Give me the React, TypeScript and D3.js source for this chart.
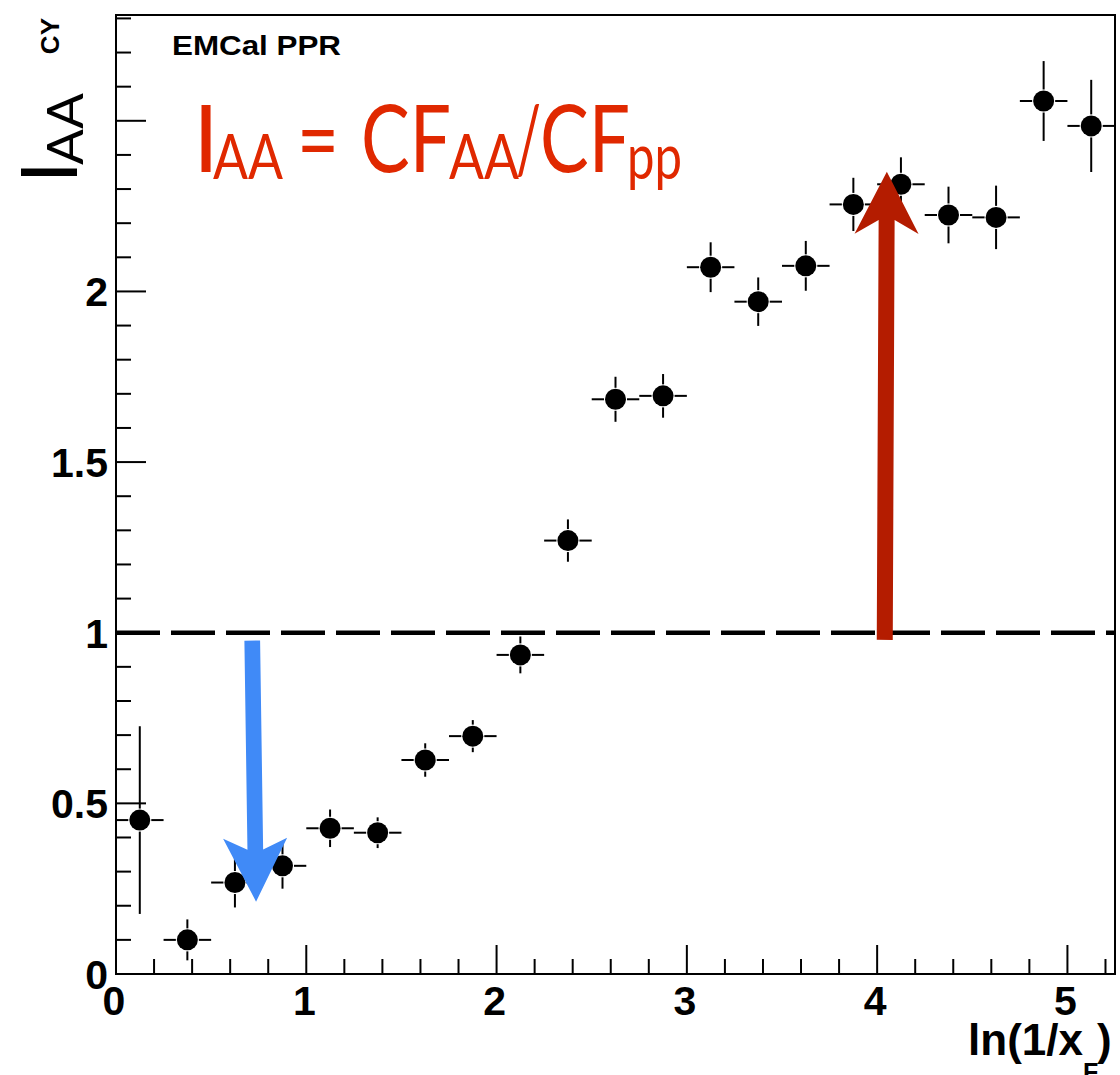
import React from "react";
import * as d3 from "d3";

// ---- data ----
const binCenters = [0.125, 0.375, 0.625, 0.875, 1.125, 1.375, 1.625, 1.875, 2.125, 2.375, 2.625,
  2.875, 3.125, 3.375, 3.625, 3.875, 4.125, 4.375, 4.625, 4.875, 5.125];
const iaaValues = [0.451, 0.100, 0.268, 0.317, 0.427, 0.414, 0.627, 0.697, 0.935, 1.270, 1.684,
  1.694, 2.071, 1.970, 2.075, 2.255, 2.314, 2.224, 2.217, 2.558, 2.485];
const iaaErrors = [0.275, 0.060, 0.073, 0.067, 0.055, 0.045, 0.049, 0.047, 0.054, 0.062, 0.066,
  0.064, 0.073, 0.071, 0.073, 0.078, 0.079, 0.083, 0.093, 0.117, 0.135];
const binHalfWidth = 0.125;

const xMajorTicks = [0, 1, 2, 3, 4, 5];
const xTickLabels = ["0", "1", "2", "3", "4", "5"];
const yMajorTicks = [0, 0.5, 1, 1.5, 2, 2.5];
const yTickLabels = ["0", "0.5", "1", "1.5", "2", ""];
const referenceLevel = 1;

// annotation arrows in data coordinates [x0, y0] -> [x1, y1]
const blueArrow = { from: [0.716, 0.977], to: [0.736, 0.212] };
const redArrow = { from: [4.040, 0.979], to: [4.051, 2.351] };

const W = 1120, H = 1075;
const plot = { left: 116, right: 1115, top: 15, bottom: 974 };

const x = d3.scaleLinear().domain([0, 5.25]).range([plot.left, plot.right]);
const y = d3.scaleLinear().domain([0, 2.81]).range([plot.bottom, plot.top]);

function arrowPath(from: number[], to: number[], shaftW: number, headLen: number, notch: number, halfW: number) {
  const sx = x(from[0]), sy = y(from[1]);
  const tx = x(to[0]), ty = y(to[1]);
  const len = Math.hypot(tx - sx, ty - sy);
  const ux = (tx - sx) / len, uy = (ty - sy) / len;
  const nx = -uy, ny = ux;
  const jx = tx - ux * notch, jy = ty - uy * notch;
  const wx = tx - ux * headLen, wy = ty - uy * headLen;
  const pts: [number, number][] = [
    [sx + nx * shaftW / 2, sy + ny * shaftW / 2],
    [jx + nx * shaftW / 2, jy + ny * shaftW / 2],
    [wx + nx * halfW, wy + ny * halfW],
    [tx, ty],
    [wx - nx * halfW, wy - ny * halfW],
    [jx - nx * shaftW / 2, jy - ny * shaftW / 2],
    [sx - nx * shaftW / 2, sy - ny * shaftW / 2],
  ];
  return d3.line()(pts) + "Z";
}

export default function App() {
  const r = 10.5;
  const gap = r + 1;
  const xMinor = d3.range(0, 5.25, 0.2).map((v) => +v.toFixed(2));
  const yMinor = d3.range(0, 2.81, 0.1).map((v) => +v.toFixed(2));
  const axisFont = "'Liberation Sans', Arial, Helvetica, sans-serif";
  const gill = "Lato, 'Open Sans', sans-serif";
  const red = "#e02800";

  return (
    <svg width={W} height={H} style={{ position: "absolute", left: 0, top: 0, background: "#fff" }}>
      <rect x={0} y={0} width={W} height={H} fill="#fff" />

      {/* minor / major ticks */}
      <g stroke="#000" strokeWidth={2}>
        {xMinor.map((v) => (
          <line key={"xm" + v} x1={x(v)} x2={x(v)} y1={plot.bottom} y2={plot.bottom - (Number.isInteger(v) ? 29 : 15)} />
        ))}
        {yMinor.map((v) => (
          <line key={"ym" + v} x1={plot.left} x2={plot.left + (Math.abs(v * 2 - Math.round(v * 2)) < 1e-6 ? 30 : 15)} y1={y(v)} y2={y(v)} />
        ))}
      </g>

      {/* frame */}
      <rect x={plot.left} y={plot.top} width={plot.right - plot.left} height={plot.bottom - plot.top}
        fill="none" stroke="#000" strokeWidth={2} />

      {/* tick labels */}
      <g fontFamily={axisFont} fontWeight="bold" fontSize={41} fill="#000">
        {xMajorTicks.map((v, i) => (
          <text key={"xl" + v} x={x(v) - 2} y={plot.bottom + 41} textAnchor="middle">{xTickLabels[i]}</text>
        ))}
        {yMajorTicks.map((v, i) => (
          <text key={"yl" + v} x={108} y={y(v) + 15} textAnchor="end">{yTickLabels[i]}</text>
        ))}
      </g>

      {/* x title */}
      <text fontFamily={axisFont} fontWeight="bold" fill="#000">
        <tspan x={1083} y={1055} fontSize={44} textAnchor="end">ln(1/x</tspan>
        <tspan x={1083} y={1081} fontSize={25}>F</tspan>
        <tspan x={1097} y={1055} fontSize={44}>)</tspan>
      </text>

      {/* y title remnants */}
      <text transform="translate(58.5,18) rotate(-90)" textAnchor="end" fontFamily={axisFont}
        fontWeight="bold" fontSize={26} fill="#000">CY</text>
      <text transform="translate(76.7,183) rotate(-90)" fontFamily={gill} fill="#000">
        <tspan x={0} y={0} fontSize={77}>I</tspan>
        <tspan x={18} y={6} fontSize={50} textLength={72} lengthAdjust="spacingAndGlyphs">AA</tspan>
      </text>

      {/* EMCal PPR */}
      <text x={172} y={55} fontFamily={axisFont} fontWeight="bold" fontSize={28}
        textLength={169} lengthAdjust="spacingAndGlyphs" fill="#000">EMCal PPR</text>

      {/* reference line */}
      <line x1={plot.left} x2={plot.right} y1={y(referenceLevel)} y2={y(referenceLevel)}
        stroke="#000" strokeWidth={4.5} strokeDasharray="44 11" />

      {/* data points with error bars */}
      <g stroke="#000" strokeWidth={2}>
        {binCenters.map((c, i) => {
          const cx = x(c), cy = y(iaaValues[i]);
          const xl = x(c - binHalfWidth), xr = x(c + binHalfWidth);
          const yt = y(iaaValues[i] + iaaErrors[i]), yb = y(iaaValues[i] - iaaErrors[i]);
          return (
            <g key={"p" + i}>
              <line x1={xl} x2={cx - gap} y1={cy} y2={cy} />
              <line x1={cx + gap} x2={xr} y1={cy} y2={cy} />
              {cy - yt > gap && <line x1={cx} x2={cx} y1={yt} y2={cy - gap} />}
              {yb - cy > gap && <line x1={cx} x2={cx} y1={cy + gap} y2={yb} />}
              <circle cx={cx} cy={cy} r={r} fill="#000" stroke="none" />
            </g>
          );
        })}
      </g>

      {/* arrows */}
      <path d={arrowPath(blueArrow.from, blueArrow.to, 15.7, 63.4, 52, 32)} fill="#408af7" />
      <path d={arrowPath(redArrow.from, redArrow.to, 16, 62.3, 48.4, 32)} fill="#b41c00" />

      {/* formula */}
      <text fontFamily={gill} fill={red}>
        <tspan x={193} y={171.7} fontSize={93}>I</tspan>
        <tspan x={213} y={179.3} fontSize={61} textLength={70} lengthAdjust="spacingAndGlyphs">AA</tspan>
        <tspan x={297} y={171.7} fontSize={93} textLength={42} lengthAdjust="spacingAndGlyphs">=</tspan>
        <tspan x={361} y={171.7} fontSize={93} textLength={90} lengthAdjust="spacingAndGlyphs">CF</tspan>
        <tspan x={449} y={179.3} fontSize={61} textLength={70} lengthAdjust="spacingAndGlyphs">AA</tspan>
        <tspan x={516} y={171.7} fontSize={93} textLength={25} lengthAdjust="spacingAndGlyphs">/</tspan>
        <tspan x={540} y={171.7} fontSize={93} textLength={90} lengthAdjust="spacingAndGlyphs">CF</tspan>
        <tspan x={627} y={179.3} fontSize={61} textLength={55} lengthAdjust="spacingAndGlyphs">pp</tspan>
      </text>
    </svg>
  );
}
